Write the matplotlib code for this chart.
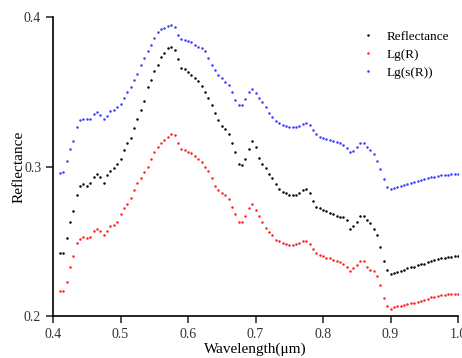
import numpy as np
import matplotlib
matplotlib.use("Agg")
import matplotlib.pyplot as plt

plt.rcParams['font.family'] = ['Liberation Serif', 'DejaVu Serif']
plt.rcParams['mathtext.fontset'] = 'stix'

wavelength = np.round(np.arange(0.41, 1.0001, 0.005), 3)

reflectance = [
    0.242, 0.242, 0.252, 0.263, 0.270, 0.281, 0.287, 0.288, 0.287, 0.289,
    0.293, 0.295, 0.293, 0.289, 0.294, 0.297, 0.299, 0.302, 0.305, 0.311,
    0.316, 0.319, 0.326, 0.332, 0.338, 0.344, 0.353, 0.358, 0.364, 0.368,
    0.373, 0.376, 0.379, 0.380, 0.378, 0.372, 0.366, 0.365, 0.363, 0.361,
    0.359, 0.357, 0.354, 0.350, 0.346, 0.341, 0.336, 0.331, 0.327, 0.325,
    0.322, 0.316, 0.310, 0.302, 0.301, 0.305, 0.312, 0.317, 0.313, 0.306,
    0.302, 0.299, 0.295, 0.292, 0.288, 0.285, 0.283, 0.282, 0.281, 0.281,
    0.281, 0.282, 0.284, 0.285, 0.282, 0.277, 0.273, 0.272, 0.271, 0.270,
    0.269, 0.268, 0.267, 0.2665, 0.266, 0.264, 0.258, 0.260, 0.263, 0.267,
    0.267, 0.264, 0.262, 0.258, 0.254, 0.246, 0.237, 0.231, 0.228, 0.229,
    0.2295, 0.230, 0.231, 0.232, 0.2325, 0.233, 0.234, 0.2345, 0.235, 0.236,
    0.237, 0.2375, 0.238, 0.2385, 0.239, 0.2393, 0.2396, 0.2398, 0.240,
]

lg_r = [
    0.217, 0.217, 0.223, 0.233, 0.240, 0.249, 0.2515, 0.253, 0.252, 0.253,
    0.257, 0.258, 0.257, 0.254, 0.257, 0.260, 0.261, 0.263, 0.268, 0.272,
    0.275, 0.279, 0.284, 0.289, 0.292, 0.296, 0.300, 0.305, 0.310, 0.313,
    0.316, 0.318, 0.320, 0.322, 0.321, 0.316, 0.312, 0.311, 0.310, 0.309,
    0.307, 0.305, 0.303, 0.300, 0.297, 0.292, 0.287, 0.284, 0.282, 0.281,
    0.278, 0.273, 0.268, 0.263, 0.263, 0.267, 0.272, 0.275, 0.271, 0.267,
    0.263, 0.259, 0.256, 0.254, 0.251, 0.250, 0.249, 0.248, 0.2475, 0.2475,
    0.248, 0.249, 0.250, 0.2505, 0.248, 0.245, 0.242, 0.2405, 0.240, 0.239,
    0.2385, 0.2375, 0.237, 0.236, 0.2345, 0.233, 0.230, 0.232, 0.234, 0.237,
    0.237, 0.233, 0.231, 0.230, 0.227, 0.221, 0.212, 0.207, 0.205, 0.206,
    0.2065, 0.207, 0.2075, 0.208, 0.2085, 0.209, 0.2095, 0.210, 0.211, 0.2115,
    0.2125, 0.213, 0.2137, 0.214, 0.2143, 0.2145, 0.2147, 0.2148, 0.215,
]

lg_s_r = [
    0.2955, 0.2965, 0.304, 0.3115, 0.317, 0.3265, 0.331, 0.3318, 0.3315, 0.332,
    0.335, 0.3367, 0.3345, 0.332, 0.334, 0.337, 0.338, 0.3395, 0.342, 0.3455,
    0.3495, 0.3535, 0.358, 0.362, 0.368, 0.3725, 0.377, 0.3815, 0.386, 0.3897,
    0.3917, 0.3928, 0.394, 0.3948, 0.393, 0.388, 0.3855, 0.3845, 0.384, 0.383,
    0.3815, 0.380, 0.379, 0.377, 0.3724, 0.368, 0.3646, 0.3612, 0.359, 0.3568,
    0.3548, 0.350, 0.3445, 0.341, 0.341, 0.345, 0.350, 0.3517, 0.349, 0.346,
    0.343, 0.3395, 0.336, 0.333, 0.3305, 0.3288, 0.3278, 0.327, 0.3265, 0.3262,
    0.3265, 0.3273, 0.3285, 0.3293, 0.328, 0.3245, 0.3215, 0.320, 0.319, 0.3185,
    0.318, 0.3173, 0.3165, 0.3157, 0.3145, 0.3125, 0.3095, 0.3105, 0.313, 0.3155,
    0.3155, 0.3132, 0.311, 0.3085, 0.304, 0.2985, 0.2915, 0.2865, 0.2847, 0.2855,
    0.286, 0.287, 0.2878, 0.2885, 0.289, 0.2897, 0.2905, 0.291, 0.2917, 0.2923,
    0.2928, 0.2933, 0.2937, 0.294, 0.2943, 0.2945, 0.2947, 0.2948, 0.2948,
]

series_names = ["Reflectance", "Lg(R)", "Lg(s(R))"]
series_colors = ["black", "#ff2020", "#3a3aff"]
x_ticks = [0.4, 0.5, 0.6, 0.7, 0.8, 0.9, 1.0]
x_tick_labels = ["0.4", "0.5", "0.6", "0.7", "0.8", "0.9", "1.0"]
y_ticks = [0.2, 0.3, 0.4]
y_tick_labels = ["0.2", "0.3", "0.4"]

fig = plt.figure(figsize=(4.62, 3.58), dpi=100)
ax = fig.add_axes([53/462, 1-316/358, (458-53)/462, (316-17)/358])

for vals, name, col in zip([reflectance, lg_r, lg_s_r], series_names, series_colors):
    ax.plot(wavelength, vals, linestyle='none', marker='o', markersize=1.8,
            markeredgewidth=0, color=col, label=name)

ax.set_xlim(0.4, 1.0)
ax.set_ylim(0.2, 0.4)
ax.set_xticks(x_ticks)
ax.set_xticklabels(x_tick_labels)
ax.set_yticks(y_ticks)
ax.set_yticklabels(y_tick_labels)
ax.spines['top'].set_visible(False)
ax.spines['right'].set_visible(False)
for s in ['left', 'bottom']:
    ax.spines[s].set_linewidth(1.2)
ax.tick_params(direction='out', length=5, width=1.2, labelsize=10, colors='#333333')
ax.tick_params(axis='x', pad=4)
ax.set_xlabel("Wavelength(μm)", fontsize=11, labelpad=1)
ax.set_ylabel("Reflectance", fontsize=11, labelpad=-1)

leg = ax.legend(loc='upper right', bbox_to_anchor=(1.008, 0.995), frameon=False,
                fontsize=9.5, markerscale=1.0, handlelength=1.0, handletextpad=0.9,
                labelspacing=0.45)

fig.savefig("out.png", dpi=100)
